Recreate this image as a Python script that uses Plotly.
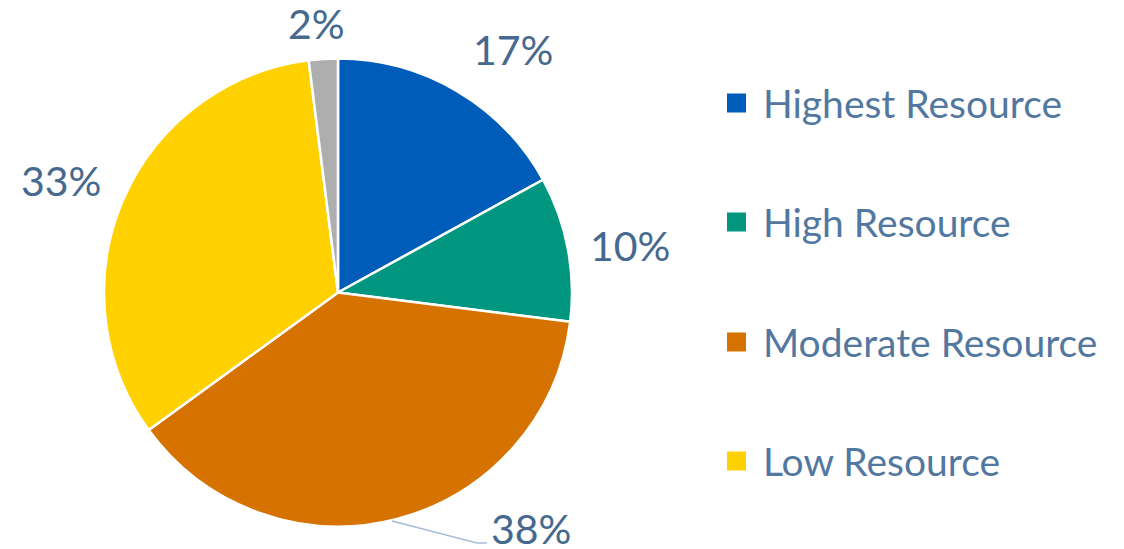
import plotly.graph_objects as go

labels = ["Highest Resource", "High Resource", "Moderate Resource", "Low Resource", "Other"]
values = [17, 10, 38, 33, 2]
colors = ["#005CB9", "#009680", "#D67300", "#FFD100", "#AEAEAE"]
legend_items = labels[:4]

W, H = 1124, 549
OFF = 8  # page body margin shifts the figure, so place things 8px up/left


def px(x):
    return (x - OFF) / W


def py(y):
    return 1 - (y - OFF) / H


fig = go.Figure()

fig.add_trace(go.Pie(
    labels=labels,
    values=values,
    sort=False,
    direction="clockwise",
    rotation=0,
    marker=dict(colors=colors, line=dict(color="white", width=2.5)),
    textinfo="none",
    showlegend=False,
    hoverinfo="label+percent",
    domain=dict(x=[px(104), px(572)], y=[py(527), py(58)]),
    automargin=False,
))

# percent labels
total = sum(values)
label_pos = [(513, 50), (630, 245), (531, 528), (61, 180), (316, 24)]
for v, (lx, ly) in zip(values, label_pos):
    fig.add_annotation(
        x=px(lx), y=py(ly), xref="paper", yref="paper",
        text=f"{round(100 * v / total)}%", showarrow=False,
        font=dict(family="Lato", size=41, color="#46698F"),
        xanchor="center", yanchor="middle",
    )

# leader line for the 38% label
fig.add_shape(
    type="path", xref="paper", yref="paper",
    path=f"M {px(392)} {py(521)} L {px(477)} {py(543)} L {px(487)} {py(543)}",
    line=dict(color="#A6BDD7", width=1.5),
)

# legend without the small grey slice
row_y = [103, 222, 342, 461]
for name, c, ry in zip(legend_items, colors, row_y):
    fig.add_shape(
        type="rect", xref="paper", yref="paper",
        x0=px(727), x1=px(746), y0=py(ry + 9.5), y1=py(ry - 9.5),
        fillcolor=c, line=dict(width=0),
    )
    fig.add_annotation(
        x=px(761), y=py(ry), xref="paper", yref="paper",
        text=name, showarrow=False, xanchor="left", yanchor="middle",
        font=dict(family="Lato", size=39, color="#5278A0"),
    )

fig.update_layout(
    width=W, height=H,
    margin=dict(l=0, r=0, t=0, b=0),
    paper_bgcolor="white", plot_bgcolor="white",
    showlegend=False,
)

fig.write_html("out.html")
